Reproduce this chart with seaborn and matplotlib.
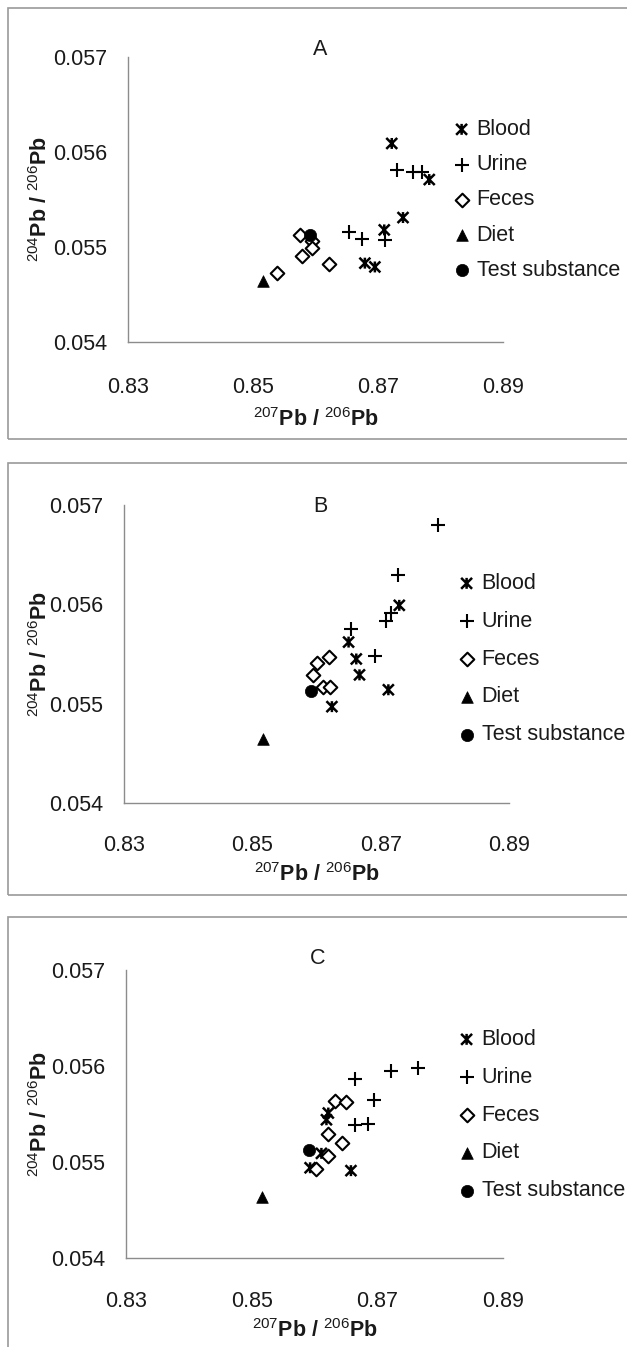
import matplotlib
matplotlib.use("Agg")
import matplotlib.pyplot as plt
from matplotlib.path import Path
from matplotlib.patches import Rectangle
import seaborn as sns
import pandas as pd

# ---- data ----
sources = ["Blood", "Urine", "Feces", "Diet", "Test substance"]
panels = ["A", "B", "C"]
x_ticks = [0.83, 0.85, 0.87, 0.89]
x_tick_labels = ["0.83", "0.85", "0.87", "0.89"]
y_ticks = [0.054, 0.055, 0.056, 0.057]
y_tick_labels = ["0.054", "0.055", "0.056", "0.057"]

a_blood_x = [0.8722, 0.8782, 0.8740, 0.8710, 0.8679, 0.8695]
a_blood_y = [0.05609, 0.05571, 0.05531, 0.05518, 0.05483, 0.05479]
a_urine_x = [0.8730, 0.8756, 0.8770, 0.8654, 0.8674, 0.8711]
a_urine_y = [0.05581, 0.05579, 0.05579, 0.05516, 0.05508, 0.05507]
a_feces_x = [0.8575, 0.8594, 0.8595, 0.8578, 0.8622, 0.8538]
a_feces_y = [0.05513, 0.05506, 0.05499, 0.05491, 0.05482, 0.05473]

b_blood_x = [0.8729, 0.8650, 0.8662, 0.8667, 0.8712, 0.8624]
b_blood_y = [0.05599, 0.05562, 0.05545, 0.05529, 0.05514, 0.05497]
b_urine_x = [0.8790, 0.8727, 0.8716, 0.8709, 0.8653, 0.8691]
b_urine_y = [0.05680, 0.05630, 0.05591, 0.05583, 0.05575, 0.05548]
b_feces_x = [0.8620, 0.8600, 0.8594, 0.8610, 0.8621]
b_feces_y = [0.05547, 0.05541, 0.05529, 0.05517, 0.05517]

c_blood_x = [0.8622, 0.8619, 0.8611, 0.8593, 0.8658]
c_blood_y = [0.05551, 0.05544, 0.05509, 0.05494, 0.05491]
c_urine_x = [0.8765, 0.8721, 0.8664, 0.8695, 0.8664, 0.8685]
c_urine_y = [0.05598, 0.05595, 0.05586, 0.05565, 0.05539, 0.05540]
c_feces_x = [0.8633, 0.8650, 0.8622, 0.8643, 0.8622, 0.8602]
c_feces_y = [0.05564, 0.05562, 0.05529, 0.05520, 0.05506, 0.05493]

diet_x = [0.8516]
diet_y = [0.05464]
test_x = [0.8591]
test_y = [0.05513]


def build_frame():
    rows = []
    per_panel = {
        "A": [(a_blood_x, a_blood_y), (a_urine_x, a_urine_y), (a_feces_x, a_feces_y)],
        "B": [(b_blood_x, b_blood_y), (b_urine_x, b_urine_y), (b_feces_x, b_feces_y)],
        "C": [(c_blood_x, c_blood_y), (c_urine_x, c_urine_y), (c_feces_x, c_feces_y)],
    }
    for panel in panels:
        groups = per_panel[panel] + [(diet_x, diet_y), (test_x, test_y)]
        for source, (xs, ys) in zip(sources, groups):
            for x, y in zip(xs, ys):
                rows.append({"panel": panel, "source": source, "x": x, "y": y})
    return pd.DataFrame(rows)


df = build_frame()

# ---- styling ----
sns.set_theme(style="white")
plt.rcParams["font.family"] = ["Liberation Sans", "DejaVu Sans"]
plt.rcParams["mathtext.fontset"] = "custom"
plt.rcParams["mathtext.rm"] = "Liberation Sans"
plt.rcParams["mathtext.it"] = "Liberation Sans:italic"
plt.rcParams["mathtext.bf"] = "Liberation Sans:bold"

FS = 15.5
TEXT = "#1a1a1a"
SPINE = "#8c8c8c"

# asterisk-like "star" marker: an x crossed by a vertical stroke
blood_marker = Path(
    [(-1, -1), (1, 1), (-1, 1), (1, -1), (0, -1), (0, 1)],
    [Path.MOVETO, Path.LINETO, Path.MOVETO, Path.LINETO, Path.MOVETO, Path.LINETO],
)

styles = {
    "Blood": dict(marker=blood_marker, s=62, color="black", facecolor="none",
                  edgecolor="black", linewidth=1.8),
    "Urine": dict(marker="+", s=105, color="black", linewidth=1.5),
    "Feces": dict(marker="D", s=48, color="black", facecolor="white",
                  edgecolor="black", linewidth=1.5),
    "Diet": dict(marker="^", s=70, color="black", edgecolor="black", linewidth=0.5),
    "Test substance": dict(marker="o", s=78, color="black", edgecolor="black", linewidth=0.5),
}

# pixel layout of each panel: axes box, frame, text offsets
W, H = 627, 1347
layout = {
    "A": dict(ax=(128, 503, 57, 342), frame=(8, 439), title=(320, 50),
              legend=(453, 119), spacing=0.66, tick_pad=15, ylab_x=41, xlab_y=420),
    "B": dict(ax=(124, 509, 505, 803), frame=(463, 895), title=(320, 507),
              legend=(458, 573), spacing=0.78, tick_pad=13, ylab_x=41, xlab_y=875),
    "C": dict(ax=(126, 503, 970, 1258), frame=(917, 1365), title=(318, 958),
              legend=(458, 1029), spacing=0.78, tick_pad=14, ylab_x=41, xlab_y=1331),
}

fig = plt.figure(figsize=(W / 100, H / 100), dpi=100)

for panel in panels:
    lo = layout[panel]
    x0, x1, y0, y1 = lo["ax"]
    ax = fig.add_axes([x0 / W, 1 - y1 / H, (x1 - x0) / W, (y1 - y0) / H])

    sub = df[df["panel"] == panel]
    for source in sources:
        part = sub[sub["source"] == source]
        sns.scatterplot(data=part, x="x", y="y", ax=ax, label=source,
                        zorder=3, **styles[source])

    ax.set_xlim(0.83, 0.89)
    ax.set_ylim(0.054, 0.057)
    ax.set_xticks(x_ticks)
    ax.set_xticklabels(x_tick_labels)
    ax.set_yticks(y_ticks)
    ax.set_yticklabels(y_tick_labels)
    ax.tick_params(axis="x", length=0, pad=lo["tick_pad"] + 10, labelsize=FS, colors=TEXT)
    ax.tick_params(axis="y", length=0, pad=15, labelsize=FS, colors=TEXT)
    sns.despine(ax=ax)
    for side in ["left", "bottom"]:
        ax.spines[side].set_color(SPINE)
        ax.spines[side].set_linewidth(1.0)
    ax.patch.set_alpha(0)

    ax.set_xlabel(r"$^{207}$Pb / $^{206}$Pb", fontsize=FS, fontweight="bold", color=TEXT)
    ax.set_ylabel(r"$^{204}$Pb / $^{206}$Pb", fontsize=FS, fontweight="bold", color=TEXT)
    ax.xaxis.set_label_coords(((x0 + x1) / 2 - x0) / (x1 - x0), -(lo["xlab_y"] - y1) / (y1 - y0))
    ax.xaxis.label.set_va("center")
    ax.yaxis.set_label_coords(-(x0 - lo["ylab_x"]) / (x1 - x0), 0.5)
    ax.yaxis.label.set_va("center")

    tx, ty = lo["title"]
    ax.text((tx - x0) / (x1 - x0), (y1 - ty) / (y1 - y0), panel, transform=ax.transAxes,
            ha="center", va="center", fontsize=FS, color=TEXT)

    lx, ly = lo["legend"]
    ax.legend(loc="upper left", bbox_to_anchor=((lx - x0) / (x1 - x0), (y1 - ly) / (y1 - y0)),
              frameon=False, fontsize=FS, handlelength=0.8, handletextpad=0.3,
              borderpad=0, borderaxespad=0, labelspacing=lo["spacing"], labelcolor=TEXT)

    fy0, fy1 = lo["frame"]
    fig.add_artist(Rectangle((8 / W, 1 - fy1 / H), 640 / W, (fy1 - fy0) / H,
                             transform=fig.transFigure, fill=False,
                             edgecolor="#9a9a9a", linewidth=1.2))

fig.savefig("out.png", dpi=100)
